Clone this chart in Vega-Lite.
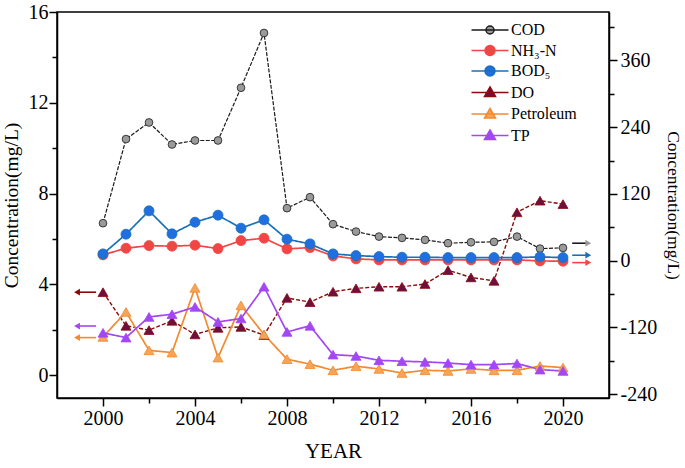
{
  "$schema": "https://vega.github.io/schema/vega-lite/v6.json",
  "width": 552,
  "height": 386,
  "autosize": "none",
  "padding": {"left": 57, "top": 12, "right": 76, "bottom": 70},
  "background": "white",
  "datasets": {
    "main": [
      {"year": 2000, "series": "COD", "side": "R", "value": 67.3},
      {"year": 2001, "series": "COD", "side": "R", "value": 218.5},
      {"year": 2002, "series": "COD", "side": "R", "value": 248.4},
      {"year": 2003, "series": "COD", "side": "R", "value": 208.8},
      {"year": 2004, "series": "COD", "side": "R", "value": 216},
      {"year": 2005, "series": "COD", "side": "R", "value": 216},
      {"year": 2006, "series": "COD", "side": "R", "value": 310.8},
      {"year": 2007, "series": "COD", "side": "R", "value": 409.3},
      {"year": 2008, "series": "COD", "side": "R", "value": 94.3},
      {"year": 2009, "series": "COD", "side": "R", "value": 114},
      {"year": 2010, "series": "COD", "side": "R", "value": 65.5},
      {"year": 2011, "series": "COD", "side": "R", "value": 52.2},
      {"year": 2012, "series": "COD", "side": "R", "value": 43.2},
      {"year": 2013, "series": "COD", "side": "R", "value": 40.9},
      {"year": 2014, "series": "COD", "side": "R", "value": 37.3},
      {"year": 2015, "series": "COD", "side": "R", "value": 31.3},
      {"year": 2016, "series": "COD", "side": "R", "value": 33},
      {"year": 2017, "series": "COD", "side": "R", "value": 33.7},
      {"year": 2018, "series": "COD", "side": "R", "value": 43.2},
      {"year": 2019, "series": "COD", "side": "R", "value": 21.6},
      {"year": 2020, "series": "COD", "side": "R", "value": 22.9},
      {"year": 2000, "series": "NH₃-N", "side": "R", "value": 10.3},
      {"year": 2001, "series": "NH₃-N", "side": "R", "value": 22.3},
      {"year": 2002, "series": "NH₃-N", "side": "R", "value": 27},
      {"year": 2003, "series": "NH₃-N", "side": "R", "value": 25.9},
      {"year": 2004, "series": "NH₃-N", "side": "R", "value": 27.7},
      {"year": 2005, "series": "NH₃-N", "side": "R", "value": 21.6},
      {"year": 2006, "series": "NH₃-N", "side": "R", "value": 36},
      {"year": 2007, "series": "NH₃-N", "side": "R", "value": 40.3},
      {"year": 2008, "series": "NH₃-N", "side": "R", "value": 21.1},
      {"year": 2009, "series": "NH₃-N", "side": "R", "value": 23.4},
      {"year": 2010, "series": "NH₃-N", "side": "R", "value": 8.5},
      {"year": 2011, "series": "NH₃-N", "side": "R", "value": 3.1},
      {"year": 2012, "series": "NH₃-N", "side": "R", "value": 1.3},
      {"year": 2013, "series": "NH₃-N", "side": "R", "value": 1.3},
      {"year": 2014, "series": "NH₃-N", "side": "R", "value": 1.3},
      {"year": 2015, "series": "NH₃-N", "side": "R", "value": 1.3},
      {"year": 2016, "series": "NH₃-N", "side": "R", "value": 1.3},
      {"year": 2017, "series": "NH₃-N", "side": "R", "value": 1.3},
      {"year": 2018, "series": "NH₃-N", "side": "R", "value": 1.3},
      {"year": 2019, "series": "NH₃-N", "side": "R", "value": -0.5},
      {"year": 2020, "series": "NH₃-N", "side": "R", "value": -1.1},
      {"year": 2000, "series": "BOD₅", "side": "R", "value": 12.1},
      {"year": 2001, "series": "BOD₅", "side": "R", "value": 47.5},
      {"year": 2002, "series": "BOD₅", "side": "R", "value": 89.5},
      {"year": 2003, "series": "BOD₅", "side": "R", "value": 48.1},
      {"year": 2004, "series": "BOD₅", "side": "R", "value": 69.1},
      {"year": 2005, "series": "BOD₅", "side": "R", "value": 81.7},
      {"year": 2006, "series": "BOD₅", "side": "R", "value": 58.3},
      {"year": 2007, "series": "BOD₅", "side": "R", "value": 73.3},
      {"year": 2008, "series": "BOD₅", "side": "R", "value": 38.5},
      {"year": 2009, "series": "BOD₅", "side": "R", "value": 30.1},
      {"year": 2010, "series": "BOD₅", "side": "R", "value": 12.1},
      {"year": 2011, "series": "BOD₅", "side": "R", "value": 9},
      {"year": 2012, "series": "BOD₅", "side": "R", "value": 7.2},
      {"year": 2013, "series": "BOD₅", "side": "R", "value": 6.1},
      {"year": 2014, "series": "BOD₅", "side": "R", "value": 6.1},
      {"year": 2015, "series": "BOD₅", "side": "R", "value": 5.4},
      {"year": 2016, "series": "BOD₅", "side": "R", "value": 5.4},
      {"year": 2017, "series": "BOD₅", "side": "R", "value": 5.4},
      {"year": 2018, "series": "BOD₅", "side": "R", "value": 5.4},
      {"year": 2019, "series": "BOD₅", "side": "R", "value": 6.7},
      {"year": 2020, "series": "BOD₅", "side": "R", "value": 5.4},
      {"year": 2000, "series": "DO", "side": "L", "value": 3.66},
      {"year": 2001, "series": "DO", "side": "L", "value": 2.18},
      {"year": 2002, "series": "DO", "side": "L", "value": 1.99},
      {"year": 2003, "series": "DO", "side": "L", "value": 2.4},
      {"year": 2004, "series": "DO", "side": "L", "value": 1.8},
      {"year": 2005, "series": "DO", "side": "L", "value": 2.09},
      {"year": 2006, "series": "DO", "side": "L", "value": 2.13},
      {"year": 2007, "series": "DO", "side": "L", "value": 1.77},
      {"year": 2008, "series": "DO", "side": "L", "value": 3.41},
      {"year": 2009, "series": "DO", "side": "L", "value": 3.22},
      {"year": 2010, "series": "DO", "side": "L", "value": 3.68},
      {"year": 2011, "series": "DO", "side": "L", "value": 3.83},
      {"year": 2012, "series": "DO", "side": "L", "value": 3.9},
      {"year": 2013, "series": "DO", "side": "L", "value": 3.9},
      {"year": 2014, "series": "DO", "side": "L", "value": 4.02},
      {"year": 2015, "series": "DO", "side": "L", "value": 4.63},
      {"year": 2016, "series": "DO", "side": "L", "value": 4.31},
      {"year": 2017, "series": "DO", "side": "L", "value": 4.16},
      {"year": 2018, "series": "DO", "side": "L", "value": 7.18},
      {"year": 2019, "series": "DO", "side": "L", "value": 7.69},
      {"year": 2020, "series": "DO", "side": "L", "value": 7.54},
      {"year": 2000, "series": "Petroleum", "side": "L", "value": 1.69},
      {"year": 2001, "series": "Petroleum", "side": "L", "value": 2.79},
      {"year": 2002, "series": "Petroleum", "side": "L", "value": 1.1},
      {"year": 2003, "series": "Petroleum", "side": "L", "value": 1.0},
      {"year": 2004, "series": "Petroleum", "side": "L", "value": 3.85},
      {"year": 2005, "series": "Petroleum", "side": "L", "value": 0.78},
      {"year": 2006, "series": "Petroleum", "side": "L", "value": 3.08},
      {"year": 2007, "series": "Petroleum", "side": "L", "value": 1.8},
      {"year": 2008, "series": "Petroleum", "side": "L", "value": 0.71},
      {"year": 2009, "series": "Petroleum", "side": "L", "value": 0.49},
      {"year": 2010, "series": "Petroleum", "side": "L", "value": 0.22},
      {"year": 2011, "series": "Petroleum", "side": "L", "value": 0.4},
      {"year": 2012, "series": "Petroleum", "side": "L", "value": 0.28},
      {"year": 2013, "series": "Petroleum", "side": "L", "value": 0.1},
      {"year": 2014, "series": "Petroleum", "side": "L", "value": 0.22},
      {"year": 2015, "series": "Petroleum", "side": "L", "value": 0.19},
      {"year": 2016, "series": "Petroleum", "side": "L", "value": 0.28},
      {"year": 2017, "series": "Petroleum", "side": "L", "value": 0.22},
      {"year": 2018, "series": "Petroleum", "side": "L", "value": 0.22},
      {"year": 2019, "series": "Petroleum", "side": "L", "value": 0.41},
      {"year": 2020, "series": "Petroleum", "side": "L", "value": 0.34},
      {"year": 2000, "series": "TP", "side": "L", "value": 1.87},
      {"year": 2001, "series": "TP", "side": "L", "value": 1.66},
      {"year": 2002, "series": "TP", "side": "L", "value": 2.57},
      {"year": 2003, "series": "TP", "side": "L", "value": 2.69},
      {"year": 2004, "series": "TP", "side": "L", "value": 3.01},
      {"year": 2005, "series": "TP", "side": "L", "value": 2.35},
      {"year": 2006, "series": "TP", "side": "L", "value": 2.5},
      {"year": 2007, "series": "TP", "side": "L", "value": 3.9},
      {"year": 2008, "series": "TP", "side": "L", "value": 1.91},
      {"year": 2009, "series": "TP", "side": "L", "value": 2.18},
      {"year": 2010, "series": "TP", "side": "L", "value": 0.91},
      {"year": 2011, "series": "TP", "side": "L", "value": 0.85},
      {"year": 2012, "series": "TP", "side": "L", "value": 0.66},
      {"year": 2013, "series": "TP", "side": "L", "value": 0.62},
      {"year": 2014, "series": "TP", "side": "L", "value": 0.59},
      {"year": 2015, "series": "TP", "side": "L", "value": 0.54},
      {"year": 2016, "series": "TP", "side": "L", "value": 0.47},
      {"year": 2017, "series": "TP", "side": "L", "value": 0.47},
      {"year": 2018, "series": "TP", "side": "L", "value": 0.52},
      {"year": 2019, "series": "TP", "side": "L", "value": 0.25},
      {"year": 2020, "series": "TP", "side": "L", "value": 0.19}
    ],
    "arrows": [
      {"series": "DO", "side": "L", "year": 1998.87, "year2": 1999.7, "value": 3.66},
      {"series": "TP", "side": "L", "year": 1998.87, "year2": 1999.7, "value": 2.17},
      {"series": "Petroleum", "side": "L", "year": 1998.87, "year2": 1999.7, "value": 1.66},
      {"series": "COD", "side": "R", "year": 2021.1, "year2": 2020.4, "value": 31.3},
      {"series": "BOD₅", "side": "R", "year": 2021.1, "year2": 2020.4, "value": 9.7},
      {"series": "NH₃-N", "side": "R", "year": 2021.1, "year2": 2020.4, "value": -3.6}
    ]
  },
  "encoding": {
    "x": {
      "field": "year",
      "type": "quantitative",
      "scale": {"domain": [1998, 2022], "nice": false, "zero": false},
      "axis": {
        "title": "YEAR",
        "titleFontSize": 21,
        "titlePadding": 12,
        "values": [2000, 2002, 2004, 2006, 2008, 2010, 2012, 2014, 2016, 2018, 2020],
        "labelExpr": "datum.value % 4 === 0 ? datum.value + '' : ''",
        "labelOverlap": false,
        "labelFlush": false,
        "labelPadding": 2,
        "tickSize": {"condition": {"test": "datum.value % 4 === 0", "value": 8}, "value": 5}
      }
    }
  },
  "layer": [
    {
      "encoding": {
        "y": {
          "field": "value",
          "type": "quantitative",
          "scale": {"domain": [-1, 16], "nice": false, "zero": false},
          "axis": {
            "orient": "left",
            "title": "Concentration(mg/L)",
            "titleFontSize": 19.5,
            "titlePadding": 7,
            "values": [0, 2, 4, 6, 8, 10, 12, 14, 16],
            "labelExpr": "datum.value % 4 === 0 ? datum.value + '' : ''",
            "labelOverlap": false,
            "labelPadding": 1,
            "tickSize": {"condition": {"test": "datum.value % 4 === 0", "value": 8}, "value": 5}
          }
        }
      },
      "layer": [
        {
          "data": {"name": "main"},
          "transform": [{"filter": "datum.side === 'L'"}],
          "mark": {"type": "line"},
          "encoding": {
            "stroke": {"field": "series", "type": "nominal", "legend": null,
              "scale": {"domain": ["TP", "Petroleum", "DO", "BOD₅", "NH₃-N", "COD"], "range": ["#a347f5", "#f28a30", "#8b0a0a", "#1a70b8", "#f24545", "#1a1a1a"]}},
            "strokeDash": {"field": "series", "type": "nominal", "legend": null,
              "scale": {"domain": ["TP", "Petroleum", "DO", "BOD₅", "NH₃-N", "COD"], "range": [[1, 0], [1, 0], [4, 2], [1, 0], [1, 0], [4, 1.5]]}},
            "strokeWidth": {"condition": {"test": "datum.series === 'DO'", "value": 1.4}, "value": 1.7}
          }
        },
        {
          "data": {"name": "arrows"},
          "transform": [{"filter": "datum.side === 'L'"}],
          "mark": {"type": "rule", "strokeWidth": 1.6},
          "encoding": {
            "x2": {"field": "year2"},
            "stroke": {"field": "series", "type": "nominal", "legend": null}
          }
        },
        {
          "data": {"name": "arrows"},
          "transform": [{"filter": "datum.side === 'L'"}],
          "mark": {"type": "point", "shape": "triangle-left", "filled": true, "size": 45, "opacity": 1},
          "encoding": {
            "color": {"field": "series", "type": "nominal", "legend": null,
              "scale": {"domain": ["DO", "TP", "Petroleum", "COD", "BOD₅", "NH₃-N"], "range": ["#8b0a0a", "#a347f5", "#f28a30", "#9a9a9a", "#1a70b8", "#f24545"]}}
          }
        },
        {
          "data": {"name": "main"},
          "transform": [{"filter": "datum.side === 'L'"}],
          "mark": {"type": "point", "filled": true, "opacity": 1, "strokeWidth": 0.8},
          "encoding": {
            "fill": {"field": "series", "type": "nominal",
              "scale": {"domain": ["COD", "NH₃-N", "BOD₅", "DO", "Petroleum", "TP"], "range": ["#9a9a9a", "#f24545", "#1f6fe0", "#6e0f3f", "#f5a458", "#a347f5"]},
              "legend": {
                "orient": "none", "legendX": 425, "legendY": 10, "title": null, "padding": 0,
                "labelFont": "Liberation Serif", "labelFontSize": 16, "labelColor": "black",
                "symbolSize": 100, "labelOffset": 13, "rowPadding": 4.5,
                "encoding": {"symbols": {
                  "shape": {"value": {"expr": "datum.value === 'COD' ? 'M-3.7,0H3.7M-0.8,0A0.8,0.8,0,1,1,0.8,0A0.8,0.8,0,1,1,-0.8,0Z' : (datum.value === 'DO' || datum.value === 'Petroleum' || datum.value === 'TP') ? 'M-3.7,0H3.7M0,-1.1L1.1,0.8L-1.1,0.8Z' : 'M-3.7,0H3.7M-1,0A1,1,0,1,1,1,0A1,1,0,1,1,-1,0Z'"}},
                  "stroke": {"value": {"expr": "scale('stroke', datum.value)"}},
                  "strokeWidth": {"value": 1.5},
                  "opacity": {"value": 1}
                }}
              }},
            "stroke": {"field": "series", "type": "nominal", "legend": null},
            "shape": {"field": "series", "type": "nominal", "legend": null,
              "scale": {"domain": ["TP", "Petroleum", "DO", "BOD₅", "NH₃-N", "COD"], "range": ["triangle-up", "triangle-up", "triangle-up", "circle", "circle", "circle"]}},
            "size": {"condition": {"test": "datum.series === 'COD'", "value": 60}, "value": 100}
          }
        }
      ]
    },
    {
      "encoding": {
        "y": {
          "field": "value",
          "type": "quantitative",
          "scale": {"domain": [-247, 447], "nice": false, "zero": false},
          "axis": {
            "orient": "right",
            "title": "Concentration(mg/L)",
            "titleFontSize": 17.5,
            "titlePadding": 7,
            "values": [-240, -180, -120, -60, 0, 60, 120, 180, 240, 300, 360, 420],
            "labelExpr": "datum.value % 120 === 0 ? datum.value + '' : ''",
            "labelOverlap": false,
            "labelPadding": 3,
            "tickSize": {"condition": {"test": "datum.value % 120 === 0", "value": 8}, "value": 5}
          }
        }
      },
      "layer": [
        {
          "data": {"name": "main"},
          "transform": [{"filter": "datum.side === 'R'"}],
          "mark": {"type": "line"},
          "encoding": {
            "stroke": {"field": "series", "type": "nominal", "legend": null},
            "strokeDash": {"field": "series", "type": "nominal", "legend": null},
            "strokeWidth": {"condition": {"test": "datum.series === 'COD'", "value": 1.2}, "value": 1.7}
          }
        },
        {
          "data": {"name": "arrows"},
          "transform": [{"filter": "datum.side === 'R'"}],
          "mark": {"type": "rule", "strokeWidth": 1.6},
          "encoding": {
            "x2": {"field": "year2"},
            "stroke": {"field": "series", "type": "nominal", "legend": null}
          }
        },
        {
          "data": {"name": "arrows"},
          "transform": [{"filter": "datum.side === 'R'"}],
          "mark": {"type": "point", "shape": "triangle-right", "filled": true, "size": 45, "opacity": 1},
          "encoding": {
            "color": {"field": "series", "type": "nominal", "legend": null}
          }
        },
        {
          "data": {"name": "main"},
          "transform": [{"filter": "datum.side === 'R'"}],
          "mark": {"type": "point", "filled": true, "opacity": 1, "strokeWidth": 0.8},
          "encoding": {
            "fill": {"field": "series", "type": "nominal"},
            "stroke": {"field": "series", "type": "nominal", "legend": null},
            "shape": {"field": "series", "type": "nominal", "legend": null},
            "size": {"condition": {"test": "datum.series === 'COD'", "value": 60}, "value": 100}
          }
        }
      ]
    }
  ],
  "resolve": {"scale": {"y": "independent"}},
  "config": {
    "view": {"stroke": "black", "strokeWidth": 1.5},
    "font": "Liberation Serif",
    "axis": {
      "grid": false,
      "domainColor": "black",
      "domainWidth": 1.5,
      "tickColor": "black",
      "tickWidth": 1.5,
      "labelFont": "Liberation Serif",
      "labelFontSize": 20,
      "labelColor": "black",
      "titleFont": "Liberation Serif",
      "titleFontWeight": "normal",
      "titleColor": "black"
    }
  }
}
